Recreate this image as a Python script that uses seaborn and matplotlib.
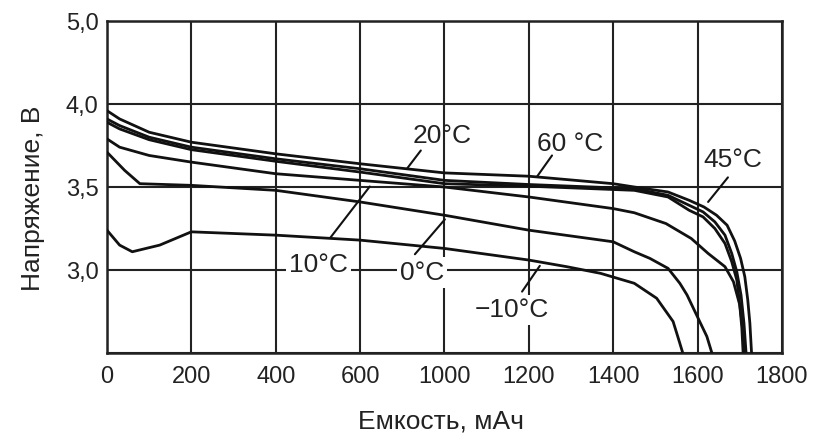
import matplotlib
matplotlib.use("Agg")
import matplotlib.pyplot as plt
import pandas as pd
import seaborn as sns

# ---- data (capacity in grid units, voltage in V) ----
cap_45 = [0, 30, 100, 200, 400, 600, 800, 1000, 1200, 1250, 1330, 1380, 1415, 1445, 1470, 1488, 1502, 1512, 1519, 1524, 1528]
volt_45 = [3.96, 3.91, 3.83, 3.77, 3.70, 3.64, 3.585, 3.565, 3.52, 3.50, 3.47, 3.42, 3.38, 3.33, 3.27, 3.175, 3.07, 2.96, 2.82, 2.68, 2.50]

cap_60 = [0, 30, 100, 200, 400, 600, 800, 1000, 1200, 1250, 1330, 1380, 1413, 1441, 1465, 1481, 1493, 1503, 1510, 1515]
volt_60 = [3.91, 3.87, 3.80, 3.74, 3.67, 3.61, 3.54, 3.515, 3.495, 3.49, 3.45, 3.39, 3.35, 3.29, 3.21, 3.10, 2.99, 2.85, 2.68, 2.50]

cap_20 = [0, 30, 100, 200, 400, 600, 800, 1000, 1200, 1250, 1330, 1380, 1413, 1441, 1465, 1481, 1493, 1500, 1505, 1508]
volt_20 = [3.89, 3.85, 3.785, 3.725, 3.655, 3.59, 3.52, 3.505, 3.485, 3.48, 3.44, 3.36, 3.32, 3.25, 3.16, 3.05, 2.94, 2.79, 2.65, 2.50]

cap_10 = [0, 30, 100, 200, 400, 600, 800, 1000, 1200, 1250, 1325, 1385, 1425, 1465, 1485, 1500, 1507, 1512]
volt_10 = [3.79, 3.74, 3.69, 3.65, 3.58, 3.54, 3.50, 3.44, 3.37, 3.345, 3.28, 3.19, 3.10, 3.02, 2.93, 2.79, 2.65, 2.50]

cap_0 = [0, 42, 78, 200, 400, 600, 800, 1000, 1200, 1250, 1287, 1330, 1358, 1375, 1405, 1422, 1434]
volt_0 = [3.71, 3.60, 3.52, 3.51, 3.48, 3.41, 3.33, 3.24, 3.17, 3.11, 3.07, 3.01, 2.92, 2.85, 2.69, 2.60, 2.50]

cap_m10 = [0, 30, 60, 125, 200, 400, 600, 800, 1000, 1090, 1170, 1250, 1303, 1342, 1353, 1365]
volt_m10 = [3.24, 3.15, 3.11, 3.15, 3.23, 3.21, 3.18, 3.13, 3.06, 3.02, 2.98, 2.92, 2.83, 2.69, 2.60, 2.50]

curve_names = ["45°C", "60 °C", "20°C", "10°C", "0°C", "−10°C"]
curve_caps = [cap_45, cap_60, cap_20, cap_10, cap_0, cap_m10]
curve_volts = [volt_45, volt_60, volt_20, volt_10, volt_0, volt_m10]

x_grid = [0, 200, 400, 600, 800, 1000, 1200, 1400, 1600]
x_tick_labels = ["0", "200", "400", "600", "1000", "1200", "1400", "1600", "1800"]
y_grid = [2.5, 3.0, 3.5, 4.0, 4.5]
y_tick_labels = ["", "3,0", "3,5", "4,0", "5,0"]

x_title = "Емкость, мАч"
y_title = "Напряжение, В"

# annotation label text, centre, and leader line (start -> end)
ann_text = ["20°C", "60 °C", "45°C", "10°C", "0°C", "−10°C"]
ann_xy = [(794, 3.805), (1097, 3.762), (1484, 3.66), (502, 3.03), (747, 2.985), (960, 2.76)]
ann_from = [(744, 3.72), (1055, 3.69), (1472, 3.558), (529, 3.193), (730, 3.095), (984, 2.87)]
ann_to = [(711, 3.61), (1019, 3.561), (1425, 3.41), (623, 3.503), (801, 3.305), (1026, 3.025)]
ann_box = [False, False, False, True, True, True]

# ---- build long table ----
frames = []
for name, c, v in zip(curve_names, curve_caps, curve_volts):
    frames.append(pd.DataFrame({"cap": c, "volt": v, "curve": name}))
df = pd.concat(frames, ignore_index=True)

sns.set_theme(style="white")
plt.rcParams["font.family"] = ["Liberation Sans", "DejaVu Sans"]

fig = plt.figure(figsize=(8.14, 4.34), dpi=100)
ax = fig.add_axes([0.1314, 0.1866, 0.8292, 0.765])

sns.lineplot(data=df, x="cap", y="volt", units="curve", estimator=None,
             sort=False, color="#111111", linewidth=2.0, ax=ax, zorder=3)

ax.set_xlim(0, 1600)
ax.set_ylim(2.5, 4.5)
ax.set_xticks(x_grid)
ax.set_xticklabels(x_tick_labels)
ax.set_yticks(y_grid)
ax.set_yticklabels(y_tick_labels)
ax.grid(True, color="#222222", linewidth=1.5)
ax.set_axisbelow(True)
ax.tick_params(length=0, labelsize=17, colors="#222222")
ax.tick_params(axis="x", pad=9)
ax.tick_params(axis="y", pad=6)
for s in ax.spines.values():
    s.set_color("#222222")
    s.set_linewidth(1.8)

ax.set_xlabel(x_title, fontsize=19, color="#222222")
ax.set_ylabel(y_title, fontsize=19, color="#222222")
ax.xaxis.set_label_coords(0.495, -0.169)
ax.yaxis.set_label_coords(-0.092, 0.467)

for t, xy, p0, p1, box in zip(ann_text, ann_xy, ann_from, ann_to, ann_box):
    ax.annotate("", xy=p1, xytext=p0,
                arrowprops=dict(arrowstyle="-", color="#111111", lw=1.5,
                                shrinkA=0, shrinkB=0), zorder=4)
    kw = {}
    if box:
        kw["bbox"] = dict(boxstyle="square,pad=0.12", fc="white", ec="none")
    ax.text(xy[0], xy[1], t, ha="center", va="center", fontsize=19,
            color="#222222", zorder=5, **kw)

fig.savefig("out.png", dpi=100, facecolor="white")
